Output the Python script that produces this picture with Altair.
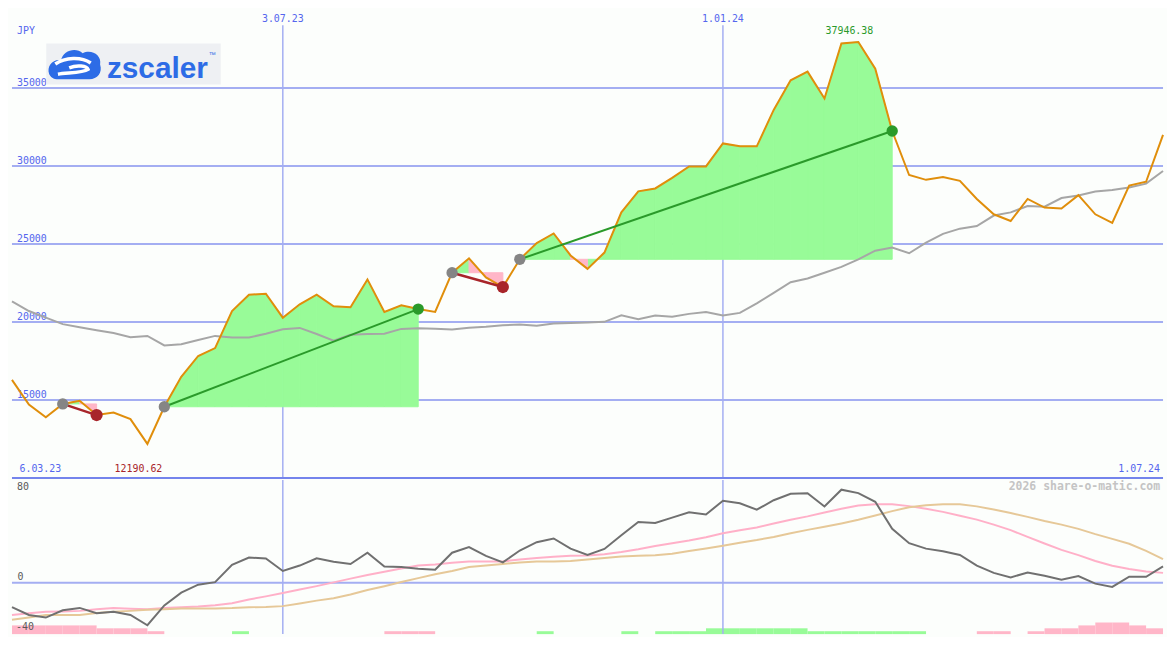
import altair as alt
import pandas as pd

# ---------------- data ----------------
dates = pd.date_range("2023-03-13", periods=69, freq="7D").strftime("%Y-%m-%d").tolist()

price = [16288, 14711, 13896, 14750, 14957, 14037, 14202, 13773, 12190.62, 14570,
         16491, 17822, 18331, 20705, 21748, 21810, 20276, 21135, 21748, 21012,
         20951, 22730, 20644, 21074, 20828, 20644, 23159, 24080, 22853, 22239,
         24018, 25061, 25675, 24264, 23405, 24448, 27024, 28374, 28558, 29233,
         29969, 29969, 31442, 31258, 31258, 33589, 35491, 36043, 34325, 37850,
         37946.38, 36227, 32239, 29417, 29110, 29294, 29049, 27883, 26902, 26472,
         27883, 27331, 27270, 28129, 26902, 26350, 28742, 28988, 31994]

ma = [21319, 20705, 20276, 19865, 19662, 19478, 19294, 19018, 19110, 18497,
      18577, 18847, 19110, 19006, 19006, 19251, 19540, 19620, 19233, 18804,
      19190, 19233, 19251, 19558, 19601, 19570, 19521, 19632, 19693, 19785,
      19847, 19755, 19908, 19939, 19969, 20012, 20429, 20172, 20417, 20337,
      20521, 20644, 20417, 20583, 21196, 21871, 22546, 22791, 23159, 23528,
      24018, 24570, 24773, 24405, 25080, 25644, 25982, 26147, 26822, 27024,
      27436, 27393, 27945, 28110, 28356, 28454, 28620, 28865, 29681]

osc = [-18.9, -25.1, -27.1, -21.4, -19.6, -23.8, -22.6, -25.1, -33.1, -17.6,
       -7.7, -1.5, 0.5, 13.9, 19.6, 18.9, 9.2, 13.4, 19.1, 16.4,
       14.6, 23.4, 12.7, 12.2, 10.9, 10.2, 23.4, 27.8, 20.9, 15.9,
       25.1, 31.6, 34.5, 26.6, 21.6, 26.3, 37.0, 47.4, 46.5, 50.7,
       54.9, 53.2, 63.8, 61.9, 56.9, 64.3, 69.3, 69.8, 59.4, 72.5,
       69.8, 63.1, 42.0, 30.8, 26.6, 24.6, 21.6, 13.4, 7.7, 4.2,
       7.9, 5.5, 2.3, 5.2, -0.7, -3.2, 4.7, 4.7, 12.7]

osc_fast = [-25.1, -23.8, -22.6, -22.3, -21.9, -20.6, -19.6, -20.2, -20.6, -19.7,
            -19.1, -18.5, -17.6, -15.9, -13.0, -10.6, -7.9, -5.3, -2.6, 0.3,
            3.2, 6.0, 8.5, 11.1, 13.5, 14.2, 15.5, 16.6, 16.6, 16.6,
            18.1, 19.3, 20.2, 21.0, 21.3, 22.2, 24.0, 26.1, 28.6, 30.8,
            32.9, 35.4, 38.6, 40.9, 43.1, 46.2, 49.1, 51.7, 54.7, 57.6,
            60.2, 61.1, 61.1, 59.7, 57.6, 55.2, 52.2, 49.2, 45.3, 41.0,
            35.7, 30.6, 25.6, 21.5, 17.0, 13.2, 10.7, 8.7, 7.7]

osc_slow = [-28.8, -27.0, -25.1, -25.1, -25.1, -23.6, -22.5, -21.9, -21.1, -20.6,
            -20.1, -20.1, -20.0, -19.7, -19.1, -18.8, -18.2, -16.1, -13.9, -12.0,
            -9.1, -5.7, -2.7, 0.6, 3.6, 6.6, 9.2, 12.2, 13.4, 14.7,
            15.7, 16.6, 16.6, 16.9, 18.1, 19.3, 20.4, 21.1, 21.5, 22.6,
            24.7, 26.7, 28.9, 31.2, 33.3, 35.7, 38.6, 41.2, 43.6, 46.2,
            49.1, 52.4, 55.8, 58.8, 60.4, 61.1, 61.1, 59.5, 57.0, 54.3,
            51.3, 48.1, 45.3, 42.0, 37.9, 34.2, 30.4, 24.8, 18.4]

# histogram blocks, one per week interval (positive = green, negative = pink)
hist = [-3, -3, -3, -3, -3, -2, -2, -2, -1, 0,
        0, 0, 0, 1, 0, 0, 0, 0, 0, 0,
        0, 0, -1, -1, -1, 0, 0, 0, 0, 0,
        0, 1, 0, 0, 0, 0, 1, 0, 1, 1,
        1, 2, 2, 2, 2, 2, 2, 1, 1, 1,
        1, 1, 1, 1, 0, 0, 0, -1, -1, 0,
        -1, -2, -2, -3, -4, -4, -3, -2]

entries = [3, 9, 26, 30]
exits = [5, 24, 29, 52]

price_ticks = [15000, 20000, 25000, 30000, 35000]
date_lines = ["2023-07-03", "2024-01-01"]
date_labels = ["3.07.23", "1.01.24"]
range_labels = ["6.03.23", "1.07.24"]

# ---------------- style ----------------
W, H1, H2 = 1158, 471, 155
FONT = "DejaVu Sans Mono"
BG = "#fcfefc"
GRID = "#a4aef2"
SEP = "#7484ec"
TXT_BLUE = "#5566ee"
ORANGE = "#e08e0b"
MA_GRAY = "#a6a6a6"
FILL_UP = "#98fb98"
FILL_DN = "#ffb6c8"
WIN = "#2a9a2a"
LOSS = "#a8252a"
MARK_GRAY = "#858585"
OSC_GRAY = "#707070"
PINK = "#ffb0c8"
TAN = "#e6c898"
LOGO_BLUE = "#2d6ce6"

xs = alt.Scale(nice=False)
ys = alt.Scale(domain=[10000, 40000], nice=False, zero=False)
ys2 = alt.Scale(domain=[-40, 80], nice=False, zero=False)

df = pd.DataFrame({"date": dates, "price": price, "ma": ma,
                   "osc": osc, "fast": osc_fast, "slow": osc_slow})
one = pd.DataFrame({"k": [0]})

X = alt.X("date:T", axis=None, scale=xs)

# area segments between price and entry level
up_rows, dn_rows = [], []
for k, (e, x) in enumerate(zip(entries, exits)):
    base = price[e]
    for i in range(e, x):
        tgt = up_rows if price[i + 1] >= base else dn_rows
        for j in (i, i + 1):
            tgt.append({"seg": f"{k}-{i}", "date": dates[j], "p": price[j], "base": base})
up_df, dn_df = pd.DataFrame(up_rows), pd.DataFrame(dn_rows)

win_rows, loss_rows, entry_rows, exit_win, exit_loss = [], [], [], [], []
for k, (e, x) in enumerate(zip(entries, exits)):
    tgt = win_rows if price[x] > price[e] else loss_rows
    tgt += [{"trade": k, "date": dates[e], "p": price[e]},
            {"trade": k, "date": dates[x], "p": price[x]}]
    entry_rows.append({"date": dates[e], "p": price[e]})
    (exit_win if price[x] > price[e] else exit_loss).append({"date": dates[x], "p": price[x]})

i_max = max(range(len(price)), key=lambda i: price[i])
i_min = min(range(len(price)), key=lambda i: price[i])
ext_df = pd.DataFrame({"date": [dates[i_max], dates[i_min]],
                       "lab": [f"{price[i_max]:.2f}", f"{price[i_min]:.2f}"]})

tick_df = pd.DataFrame({"tick": price_ticks, "lab": [str(t) for t in price_ticks]})
dl_df = pd.DataFrame({"date": date_lines, "lab": date_labels})

# ---------------- upper panel ----------------
grid_h = alt.Chart(tick_df).mark_rule(color=GRID, strokeWidth=2).encode(
    y=alt.Y("tick:Q", scale=ys, axis=None))
grid_v = alt.Chart(dl_df).mark_rule(color=GRID, strokeWidth=1.5).encode(
    x=X, y=alt.value(15.4), y2=alt.value(H1))
sep = alt.Chart(one).mark_rule(color=SEP, strokeWidth=2).encode(
    y=alt.datum(10000, scale=ys))
tick_txt = alt.Chart(tick_df).mark_text(
    align="left", baseline="alphabetic", dy=-2, font=FONT, fontSize=10, color=TXT_BLUE
).encode(x=alt.value(5), y=alt.Y("tick:Q", scale=ys, axis=None), text="lab:N")
date_txt = alt.Chart(dl_df).mark_text(
    align="center", baseline="alphabetic", font=FONT, fontSize=10, color=TXT_BLUE
).encode(x=X, y=alt.value(12.5), text="lab:N")
jpy = alt.Chart(one).mark_text(
    text="JPY", align="left", baseline="alphabetic", font=FONT, fontSize=10, color=TXT_BLUE
).encode(x=alt.value(5), y=alt.value(24))
rng_l = alt.Chart(one).mark_text(
    text=range_labels[0], align="left", baseline="alphabetic", font=FONT, fontSize=10, color=TXT_BLUE
).encode(x=alt.value(7.5), y=alt.value(H1 - 6))
rng_r = alt.Chart(one).mark_text(
    text=range_labels[1], align="right", baseline="alphabetic", font=FONT, fontSize=10, color=TXT_BLUE
).encode(x=alt.value(W - 3), y=alt.value(H1 - 6))

area_up = alt.Chart(up_df).mark_area(
    color=FILL_UP, stroke=FILL_UP, strokeWidth=1, opacity=1, interpolate="linear"
).encode(x=X, y=alt.Y("p:Q", scale=ys, axis=None), y2="base:Q", detail="seg:N")
area_dn = alt.Chart(dn_df).mark_area(
    color=FILL_DN, stroke=FILL_DN, strokeWidth=1, opacity=1, interpolate="linear"
).encode(x=X, y=alt.Y("p:Q", scale=ys, axis=None), y2="base:Q", detail="seg:N")

ma_line = alt.Chart(df).mark_line(color=MA_GRAY, strokeWidth=2).encode(
    x=X, y=alt.Y("ma:Q", scale=ys, axis=None))
price_line = alt.Chart(df).mark_line(color=ORANGE, strokeWidth=2).encode(
    x=X, y=alt.Y("price:Q", scale=ys, axis=None))

win_line = alt.Chart(pd.DataFrame(win_rows)).mark_line(color=WIN, strokeWidth=2).encode(
    x=X, y=alt.Y("p:Q", scale=ys, axis=None), detail="trade:N")
loss_line = alt.Chart(pd.DataFrame(loss_rows)).mark_line(color=LOSS, strokeWidth=2.5).encode(
    x=X, y=alt.Y("p:Q", scale=ys, axis=None), detail="trade:N")
entry_pts = alt.Chart(pd.DataFrame(entry_rows)).mark_circle(color=MARK_GRAY, size=130, opacity=1).encode(
    x=X, y=alt.Y("p:Q", scale=ys, axis=None))
exit_w = alt.Chart(pd.DataFrame(exit_win)).mark_circle(color=WIN, size=130, opacity=1).encode(
    x=X, y=alt.Y("p:Q", scale=ys, axis=None))
exit_l = alt.Chart(pd.DataFrame(exit_loss)).mark_circle(color=LOSS, size=150, opacity=1).encode(
    x=X, y=alt.Y("p:Q", scale=ys, axis=None))

max_txt = alt.Chart(ext_df.iloc[[0]]).mark_text(
    align="center", baseline="alphabetic", dx=-9, font=FONT, fontSize=10, color=WIN
).encode(x=X, y=alt.value(24), text="lab:N")
min_txt = alt.Chart(ext_df.iloc[[1]]).mark_text(
    align="center", baseline="alphabetic", dx=-9, font=FONT, fontSize=10, color=LOSS
).encode(x=X, y=alt.value(H1 - 6), text="lab:N")

# logo
CLOUD = ("M -0.95 0.35 C -1.05 0.05 -0.8 -0.22 -0.5 -0.16 C -0.45 -0.52 0.05 -0.66 0.3 -0.42 "
         "C 0.62 -0.58 1.02 -0.36 0.95 0.0 C 1.05 0.3 0.85 0.55 0.55 0.55 L -0.6 0.55 "
         "C -0.8 0.55 -0.9 0.45 -0.95 0.35 Z")
SWOOSH = ("M -0.72 -0.02 C -0.35 -0.28 0.25 -0.3 0.6 -0.06 "
          "M -0.2 0.12 C 0.1 0.0 0.45 0.05 0.5 0.18 C 0.3 0.32 -0.3 0.3 -0.62 0.36")
logo_bg = alt.Chart(one).mark_rect(color="#eef0f3").encode(
    x=alt.value(34.5), x2=alt.value(210), y=alt.value(33.7), y2=alt.value(75))
logo_cloud = alt.Chart(one).mark_point(shape=CLOUD, filled=True, color=LOGO_BLUE, size=54 * 54, opacity=1).encode(
    x=alt.value(63), y=alt.value(55))
logo_sw = alt.Chart(one).mark_point(shape=SWOOSH, filled=False, color="white", strokeWidth=3.5,
                                    size=54 * 54, opacity=1).encode(x=alt.value(63), y=alt.value(55))
logo_txt = alt.Chart(one).mark_text(
    text="zscaler", align="left", baseline="alphabetic", font="Liberation Sans", fontWeight="bold",
    fontSize=30, color=LOGO_BLUE).encode(x=alt.value(95.5), y=alt.value(68.5))
logo_tm = alt.Chart(one).mark_text(
    text="™", align="left", baseline="alphabetic", font="Liberation Sans", fontSize=7,
    color=LOGO_BLUE).encode(x=alt.value(198), y=alt.value(47))

upper = alt.layer(
    grid_h, grid_v, tick_txt, date_txt, jpy, rng_l, rng_r,
    area_up, area_dn, ma_line, price_line, win_line, loss_line,
    entry_pts, exit_w, exit_l, max_txt, min_txt, sep,
    logo_bg, logo_cloud, logo_sw, logo_txt, logo_tm
).properties(width=W, height=H1)

# ---------------- lower panel ----------------
hist_rows_up, hist_rows_dn = [], []
for i, h in enumerate(hist):
    if h > 0:
        hist_rows_up.append({"date": dates[i], "date2": dates[i + 1], "mag": h})
    elif h < 0:
        hist_rows_dn.append({"date": dates[i], "date2": dates[i + 1], "mag": -h})
hs = alt.Scale(domain=[0, 53], nice=False, zero=True)
hist_up = alt.Chart(pd.DataFrame(hist_rows_up)).mark_rect(color=FILL_UP, opacity=1).encode(
    x=X, x2="date2:T", y=alt.Y("mag:Q", scale=hs, axis=None), y2=alt.datum(0))
hist_dn = alt.Chart(pd.DataFrame(hist_rows_dn)).mark_rect(color=FILL_DN, opacity=1).encode(
    x=X, x2="date2:T", y=alt.Y("mag:Q", scale=hs, axis=None), y2=alt.datum(0))

zero_df = pd.DataFrame({"v": [0], "lab": ["0"]})
zero_rule = alt.Chart(zero_df).mark_rule(color=GRID, strokeWidth=2).encode(
    y=alt.Y("v:Q", scale=ys2, axis=None))
grid_v2 = alt.Chart(dl_df).mark_rule(color=GRID, strokeWidth=1.5).encode(x=X)
fast_line = alt.Chart(df).mark_line(color=PINK, strokeWidth=2).encode(
    x=X, y=alt.Y("fast:Q", scale=ys2, axis=None))
slow_line = alt.Chart(df).mark_line(color=TAN, strokeWidth=2).encode(
    x=X, y=alt.Y("slow:Q", scale=ys2, axis=None))
osc_line = alt.Chart(df).mark_line(color=OSC_GRAY, strokeWidth=2).encode(
    x=X, y=alt.Y("osc:Q", scale=ys2, axis=None))
lab80 = alt.Chart(one).mark_text(
    text="80", align="left", baseline="top", font=FONT, fontSize=10, color="#5a5a5a"
).encode(x=alt.value(5), y=alt.value(2.5))
lab0 = alt.Chart(zero_df).mark_text(
    align="left", baseline="alphabetic", dy=-3, font=FONT, fontSize=10, color="#5a5a5a"
).encode(x=alt.value(5.5), y=alt.Y("v:Q", scale=ys2, axis=None), text="lab:N")
lab40 = alt.Chart(one).mark_text(
    text="-40", align="left", baseline="alphabetic", font=FONT, fontSize=10, color="#5a5a5a"
).encode(x=alt.value(4), y=alt.value(H2 - 4))
wm = alt.Chart(one).mark_text(
    text="2026 share-o-matic.com", align="right", baseline="top", font=FONT, fontSize=11.5,
    fontWeight="bold", color="#c4c4c4").encode(x=alt.value(W - 3), y=alt.value(1.5))

lines_layer = alt.layer(zero_rule, grid_v2, fast_line, slow_line, osc_line, lab80, lab0, lab40, wm)
lower = alt.layer(alt.layer(hist_up, hist_dn), lines_layer).resolve_scale(y="independent").properties(
    width=W, height=H2)

chart = alt.vconcat(upper, lower, spacing=0).properties(
    padding=0, background=BG
).configure_view(stroke=None).configure_concat(spacing=0)

chart.save("out.html", embed_options={"renderer": "svg", "actions": False})
